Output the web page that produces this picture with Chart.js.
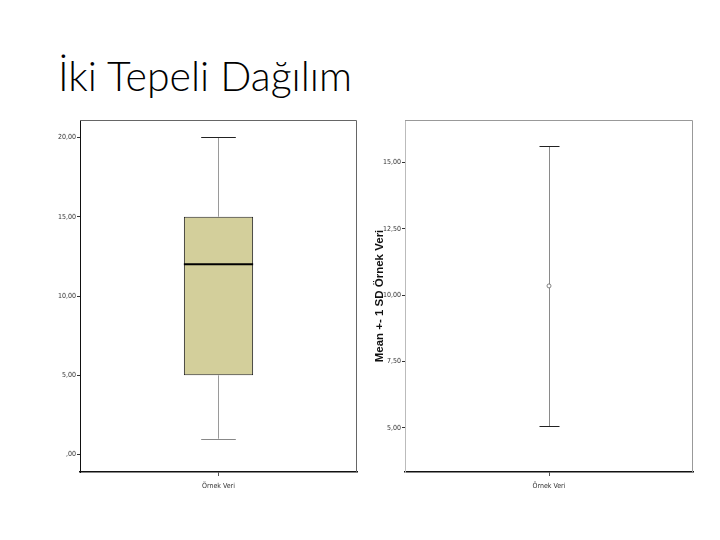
<!DOCTYPE html>
<html>
<head>
<meta charset="utf-8">
<script src="https://cdn.jsdelivr.net/npm/chart.js@4.4.1/dist/chart.umd.min.js"></script>
<style>
  body { margin: 0; background: #fff; width: 720px; height: 540px; position: relative; overflow: hidden; }
  #title { position: absolute; left: 58px; top: 51px; font-family: Lato, "Open Sans", sans-serif; font-weight: 300; font-size: 41px; color: #000; white-space: nowrap; }
  #box-wrap { position: absolute; left: 40px; top: 110px; width: 320px; height: 390px; }
  #err-wrap { position: absolute; left: 360px; top: 110px; width: 340px; height: 390px; }
</style>
</head>
<body>
<div id="title">İki Tepeli Dağılım</div>
<div id="box-wrap"><canvas id="box-chart"></canvas></div>
<div id="err-wrap"><canvas id="err-chart"></canvas></div>
<script>
// Data
const categories = ['Örnek Veri'];

// box plot summary (left)
const boxMin = [1];
const boxQ1 = [5];
const boxMedian = [12];
const boxQ3 = [15];
const boxMax = [20];
const boxTicks = [0, 5, 10, 15, 20];
const boxTickLabels = [',00', '5,00', '10,00', '15,00', '20,00'];

// mean +- 1 SD (right)
const means = [10.35];
const sds = [5.27];
const errTicks = [5, 7.5, 10, 12.5, 15];
const errTickLabels = ['5,00', '7,50', '10,00', '12,50', '15,00'];
const errAxisTitle = 'Mean +- 1 SD Örnek Veri';

const tickFont = { family: "'Liberation Sans Narrow', 'DejaVu Sans Condensed', sans-serif", size: 7 };

// frame round the plot area
const framePlugin = {
    id: 'frame',
    afterDraw(chart, args, opts) {
        const a = chart.chartArea;
        const ctx = chart.ctx;
        ctx.save();
        ctx.lineWidth = 1;
        ctx.strokeStyle = opts.color || '#888';
        ctx.beginPath();
        ctx.moveTo(a.left, a.top + 0.5);
        ctx.lineTo(a.right - 0.5, a.top + 0.5);
        ctx.lineTo(a.right - 0.5, a.bottom);
        ctx.stroke();
        ctx.restore();
    }
};

// whiskers and median for the box plot
const whiskerPlugin = {
    id: 'whiskers',
    afterDatasetsDraw(chart) {
        const ctx = chart.ctx;
        const y = chart.scales.y;
        const meta = chart.getDatasetMeta(0);
        meta.data.forEach((bar, i) => {
            const cx = bar.x;
            const half = bar.width / 2;
            const cap = half / 2;
            ctx.save();
            // whisker lines
            ctx.strokeStyle = '#9a9a9a';
            ctx.lineWidth = 1;
            ctx.beginPath();
            ctx.moveTo(cx, y.getPixelForValue(boxQ3[i]));
            ctx.lineTo(cx, y.getPixelForValue(boxMax[i]));
            ctx.moveTo(cx, y.getPixelForValue(boxQ1[i]));
            ctx.lineTo(cx, y.getPixelForValue(boxMin[i]));
            ctx.stroke();
            // caps
            ctx.strokeStyle = '#222';
            ctx.beginPath();
            ctx.moveTo(cx - cap, Math.round(y.getPixelForValue(boxMax[i])) + 0.5);
            ctx.lineTo(cx + cap, Math.round(y.getPixelForValue(boxMax[i])) + 0.5);
            ctx.stroke();
            ctx.strokeStyle = '#888';
            ctx.beginPath();
            ctx.moveTo(cx - cap, Math.round(y.getPixelForValue(boxMin[i])) + 0.5);
            ctx.lineTo(cx + cap, Math.round(y.getPixelForValue(boxMin[i])) + 0.5);
            ctx.stroke();
            // median
            ctx.strokeStyle = '#000';
            ctx.lineWidth = 2;
            ctx.beginPath();
            ctx.moveTo(cx - half, y.getPixelForValue(boxMedian[i]));
            ctx.lineTo(cx + half, y.getPixelForValue(boxMedian[i]));
            ctx.stroke();
            ctx.restore();
        });
    }
};

// error bars for mean +- SD
const errorBarPlugin = {
    id: 'errorBars',
    beforeDatasetsDraw(chart) {
        const ctx = chart.ctx;
        const y = chart.scales.y;
        const meta = chart.getDatasetMeta(0);
        meta.data.forEach((pt, i) => {
            const cx = Math.round(pt.x) + 0.5;
            const top = Math.round(y.getPixelForValue(means[i] + sds[i])) + 0.5;
            const bot = Math.round(y.getPixelForValue(means[i] - sds[i])) + 0.5;
            ctx.save();
            ctx.lineWidth = 1;
            ctx.strokeStyle = '#8a8a8a';
            ctx.beginPath();
            ctx.moveTo(cx, top);
            ctx.lineTo(cx, bot);
            ctx.stroke();
            ctx.strokeStyle = '#222';
            ctx.beginPath();
            ctx.moveTo(cx - 10, top);
            ctx.lineTo(cx + 10, top);
            ctx.moveTo(cx - 10, bot);
            ctx.lineTo(cx + 10, bot);
            ctx.stroke();
            ctx.restore();
        });
    }
};

function yAxis(min, max, ticks, labels, width, extra) {
    return Object.assign({
        min: min,
        max: max,
        afterBuildTicks: axis => { axis.ticks = ticks.map(v => ({ value: v })); },
        afterFit: axis => { axis.width = width; },
        ticks: {
            font: tickFont,
            color: '#333',
            padding: 1,
            callback: v => labels[ticks.indexOf(v)]
        },
        grid: { drawOnChartArea: false, tickLength: 3, color: '#333' },
        border: { color: '#111', width: 1 }
    }, extra || {});
}

function xAxis() {
    return {
        type: 'category',
        offset: true,
        afterFit: axis => { axis.height = 28; },
        ticks: { font: tickFont, color: '#333', padding: 6 },
        grid: { offset: false, drawOnChartArea: false, tickLength: 4, color: '#555' },
        border: { color: '#111', width: 1.5 }
    };
}

// Box plot
new Chart(document.getElementById('box-chart'), {
    type: 'bar',
    data: {
        labels: categories,
        datasets: [{
            data: boxQ1.map((q, i) => [q, boxQ3[i]]),
            backgroundColor: '#d3cf9b',
            borderColor: '#222',
            borderWidth: 1,
            borderSkipped: false,
            categoryPercentage: 1,
            barPercentage: 0.25
        }]
    },
    options: {
        responsive: true,
        maintainAspectRatio: false,
        animation: false,
        layout: { padding: { top: 10, right: 3, left: 0, bottom: 0 } },
        plugins: { legend: { display: false }, tooltip: { enabled: false }, frame: { color: '#666' } },
        scales: {
            x: xAxis(),
            y: yAxis(-1.1, 21.1, boxTicks, boxTickLabels, 40)
        }
    },
    plugins: [framePlugin, whiskerPlugin]
});

// Mean +- 1 SD
new Chart(document.getElementById('err-chart'), {
    type: 'line',
    data: {
        labels: categories,
        datasets: [{
            data: means,
            showLine: false,
            pointRadius: 2,
            pointBorderWidth: 0.8,
            pointBorderColor: '#666',
            pointBackgroundColor: '#fff'
        }]
    },
    options: {
        responsive: true,
        maintainAspectRatio: false,
        animation: false,
        layout: { padding: { top: 10, right: 7, left: 13, bottom: 0 } },
        plugins: { legend: { display: false }, tooltip: { enabled: false }, frame: { color: '#999' } },
        scales: {
            x: xAxis(),
            y: yAxis(3.34, 16.6, errTicks, errTickLabels, 32, {
                title: {
                    display: true,
                    text: errAxisTitle,
                    font: { family: 'Arial, Liberation Sans, sans-serif', size: 11.5, weight: 'bold' },
                    color: '#111',
                    padding: 0
                },
                border: { color: '#bbb', width: 1 }
            })
        }
    },
    plugins: [framePlugin, errorBarPlugin]
});
</script>
</body>
</html>
